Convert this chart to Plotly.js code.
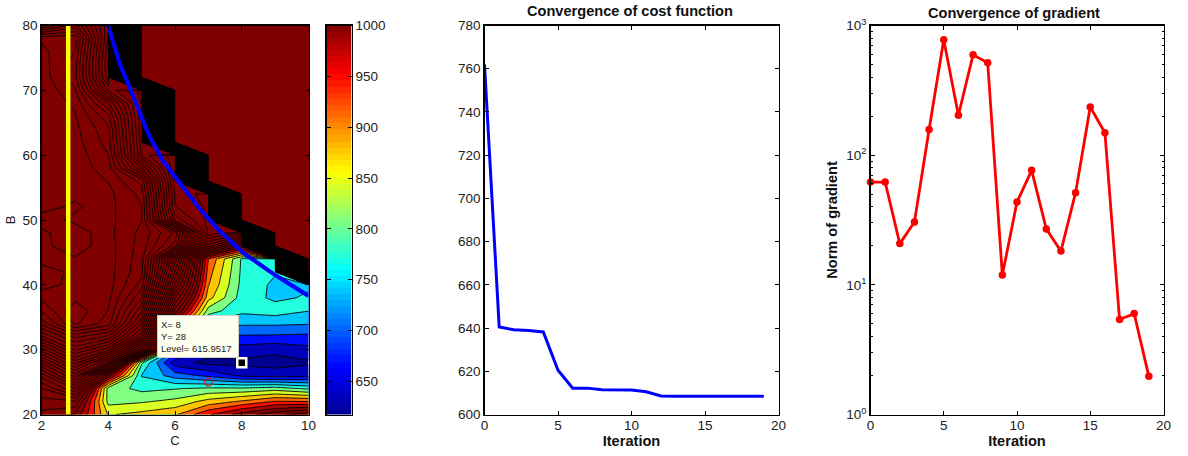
<!DOCTYPE html>
<html><head><meta charset="utf-8">
<script src="https://cdn.plot.ly/plotly-3.0.1.min.js"></script>
<style>html,body{margin:0;padding:0;background:#fff}</style></head>
<body><div id="g" style="width:1188px;height:456px"></div>
<script>
const H = 5000;
const cVals = [2,3,4,5,6,7,8,9,10];
const bVals = [20,22,24,26,28,30,32,34,36,38,40,42,44,46,48,50,52,54,56,58,60,62,64,66,68,70,72,74,76,78,80];
const zRows = [
[1030,1005,845,858,875,940,990,1030,1060],
[1060,1068,805,812,825,860,885,915,912],
[1100,1200,800,775,782,790,790,800,778],
[1180,1340,1000,750,705,680,650,640,646],
[1300,1470,1310,790,636,615,616,612,619],
[1440,1590,1500,1200,720,640,640,632,646],
[1580,1690,1640,1420,835,690,683,682,679],
[1690,1815,1760,1520,950,745,725,725,722],
[1745,1830,1775,1590,1060,800,760,768,753],
[1785,1800,1785,1650,1140,860,770,745,756],
[1825,1795,1790,1700,1230,882,775,745,748],
[1825,1800,1790,1720,1290,895,778,755,H],
[1795,1805,1790,1725,1350,912,780,770,H],
[1800,1825,1790,1730,1600,1150,1000,H,H],
[1800,1830,1785,1735,1640,1290,1220,H,H],
[1825,1800,1785,1745,1380,1285,H,H,H],
[1795,1815,1785,1745,1330,1290,H,H,H],
[1795,1800,1785,1735,1320,1280,H,H,H],
[1785,1795,1775,1700,1310,H,H,H,H],
[1780,1795,1760,1550,1300,H,H,H,H],
[1780,1795,1745,1420,1300,H,H,H,H],
[1785,1790,1730,1410,H,H,H,H,H],
[1790,1785,1720,1400,H,H,H,H,H],
[1800,1780,1690,1400,H,H,H,H,H],
[1800,1770,1620,1390,H,H,H,H,H],
[1800,1750,1480,1380,H,H,H,H,H],
[1795,1725,1400,H,H,H,H,H,H],
[1790,1730,1390,H,H,H,H,H,H],
[1785,1745,1400,H,H,H,H,H,H],
[1770,1770,1420,H,H,H,H,H,H],
[1580,1660,1430,H,H,H,H,H,H]
];
const limitC = [4,4.35,4.72,5.2,5.65,6.16,6.7,7.26,8.05,9,9.96,10];
const limitB = [80,74,69.5,63.3,59,55.6,52,48.7,44.9,41.5,38.5,38.3];
const yellowC = [2.8,2.8];
const yellowB = [20,80];
const circleC = [7], circleB = [25];
const pickC = [8], pickB = [28];
const iterations = [0,1,2,3,4,5,6,7,8,9,10,11,12,13,14,15,16,17,18,19];
const costValues = [762,640.5,639.2,638.9,638.2,620.5,612.2,612.2,611.4,611.3,611.3,610.5,608.6,608.5,608.4,608.4,608.4,608.4,608.4,608.4];
const gradValues = [62,62,20.8,30.5,158,776,203,594,516,11.9,43.5,76.4,27,18.2,51.4,235,149,5.4,6.0,1.97];
const logTicks = [1,10,100,1000];
const logLabels = ['10<sup>0</sup>','10<sup>1</sup>','10<sup>2</sup>','10<sup>3</sup>'];
const barTicks = [650,700,750,800,850,900,950,1000];

const jet = [[0,'rgb(0,0,143)'],[0.125,'rgb(0,0,255)'],[0.375,'rgb(0,255,255)'],[0.625,'rgb(255,255,0)'],[0.875,'rgb(255,0,0)'],[1,'rgb(128,0,0)']];
const barMin = 616, barMax = 1000, barSteps = 64;
const barY = [], barZ = [];
for (let i = 0; i < barSteps; i++) { const v = barMin + (i + 0.5) * (barMax - barMin) / barSteps; barY.push(v); barZ.push([v]); }

const W = 1188, Ht = 456;
const FAM = 'Liberation Sans, Arial, sans-serif';
const dx = (a, b) => [(a + 0.5) / W, (b + 0.5) / W];
const dy = [1 - 414.5 / Ht, 1 - 25.5 / Ht];
const tf = {family: FAM, size: 13.5, color: '#222'};
const common = {showline: true, linecolor: '#000', linewidth: 1.2, mirror: 'ticks', ticks: 'inside', ticklen: 4, tickcolor: '#000', tickwidth: 1, showgrid: false, zeroline: false, tickfont: tf};
const boldFont = {family: FAM, size: 14.6, color: '#111', weight: 'bold'};
const plainTitle = {family: FAM, size: 13, color: '#222'};

const traces = [
 {type: 'contour', x: cVals, y: bVals, z: zRows, xaxis: 'x', yaxis: 'y', colorscale: jet, zauto: false, zmin: 616, zmax: 1000, showscale: false, hoverinfo: 'skip',
  contours: {coloring: 'fill', start: 624, end: 4976, size: 32}, line: {color: '#000', width: 0.9, smoothing: 0}},
 {type: 'scatter', mode: 'lines', x: yellowC, y: yellowB, xaxis: 'x', yaxis: 'y', line: {color: '#ffff00', width: 4.5}, hoverinfo: 'skip'},
 {type: 'scatter', mode: 'lines', x: limitC, y: limitB, xaxis: 'x', yaxis: 'y', line: {color: '#0000ff', width: 4.2}, hoverinfo: 'skip'},
 {type: 'scatter', mode: 'markers', x: circleC, y: circleB, xaxis: 'x', yaxis: 'y', marker: {symbol: 'circle-open', size: 7.5, color: '#ee1010', line: {width: 1.2, color: '#ee1010'}}, hoverinfo: 'skip'},
 {type: 'scatter', mode: 'markers', x: pickC, y: pickB, xaxis: 'x', yaxis: 'y', marker: {symbol: 'square', size: 9, color: '#000', line: {width: 2.5, color: '#fffff0'}}, hoverinfo: 'skip'},
 {type: 'heatmap', x: [0], y: barY, z: barZ, xaxis: 'x4', yaxis: 'y4', colorscale: jet, zmin: barMin, zmax: barMax, showscale: false, hoverinfo: 'skip'},
 {type: 'scatter', mode: 'lines', x: iterations, y: costValues, xaxis: 'x2', yaxis: 'y2', line: {color: '#0000ff', width: 3}, hoverinfo: 'skip'},
 {type: 'scatter', mode: 'lines+markers', x: iterations, y: gradValues, xaxis: 'x3', yaxis: 'y3', line: {color: '#ff0000', width: 2.8}, marker: {color: '#ff0000', size: 7.5}, hoverinfo: 'skip', cliponaxis: false}
];

const layout = {
 width: W, height: Ht, margin: {l: 0, r: 0, t: 0, b: 0}, paper_bgcolor: '#fff', plot_bgcolor: '#fff', showlegend: false,
 xaxis: Object.assign({}, common, {domain: dx(41, 308), range: [2, 10], tickvals: [2,4,6,8,10], ticklabelstandoff: -2, title: {text: 'C', font: plainTitle, standoff: 1}, anchor: 'y', layer: 'above traces'}),
 yaxis: Object.assign({}, common, {domain: dy, range: [20, 80], tickvals: [20,30,40,50,60,70,80], title: {text: 'B', font: plainTitle, standoff: 4}, anchor: 'x', layer: 'above traces'}),
 xaxis4: Object.assign({}, common, {domain: dx(326, 351), range: [-0.5, 0.5], showticklabels: false, ticks: '', anchor: 'y4', layer: 'above traces'}),
 yaxis4: Object.assign({}, common, {domain: dy, range: [617.5, barMax], side: 'right', tickvals: barTicks, anchor: 'x4', layer: 'above traces'}),
 xaxis2: Object.assign({}, common, {domain: dx(484, 778), range: [0, 20], dtick: 5, ticklabelstandoff: -2, title: {text: 'Iteration', font: boldFont, standoff: 0}, anchor: 'y2'}),
 yaxis2: Object.assign({}, common, {domain: dy, range: [600, 780], dtick: 20, anchor: 'x2'}),
 xaxis3: Object.assign({}, common, {domain: dx(870, 1163), range: [0, 20], dtick: 5, ticklabelstandoff: -2, title: {text: 'Iteration', font: boldFont, standoff: 0}, anchor: 'y3'}),
 yaxis3: Object.assign({}, common, {domain: dy, type: 'log', range: [0, 3], tickvals: logTicks, ticktext: logLabels, minor: {ticks: 'inside', ticklen: 2, tickcolor: '#000', dtick: 'D1', showgrid: false}, title: {text: 'Norm of gradient', font: boldFont, standoff: 5}, anchor: 'x3'}),
 annotations: [
  {x: 5.47, y: 35.3, xref: 'x', yref: 'y', xanchor: 'left', yanchor: 'top', showarrow: false, align: 'left', width: 74, height: 35, bgcolor: '#fffff0', bordercolor: '#cfcfcf', borderwidth: 1, borderpad: 3,
   text: 'X= 8<br>Y= 28<br>Level= 615.9517', font: {family: FAM, size: 9.5, color: '#222'}},
  {xref: 'paper', yref: 'paper', x: 630 / W, y: 1 - 11 / Ht, xanchor: 'center', yanchor: 'middle', showarrow: false, text: 'Convergence of cost function', font: boldFont},
  {xref: 'paper', yref: 'paper', x: 1014 / W, y: 1 - 13 / Ht, xanchor: 'center', yanchor: 'middle', showarrow: false, text: 'Convergence of gradient', font: boldFont}
 ]
};
Plotly.newPlot('g', traces, layout, {displayModeBar: false, staticPlot: true});
</script></body></html>
